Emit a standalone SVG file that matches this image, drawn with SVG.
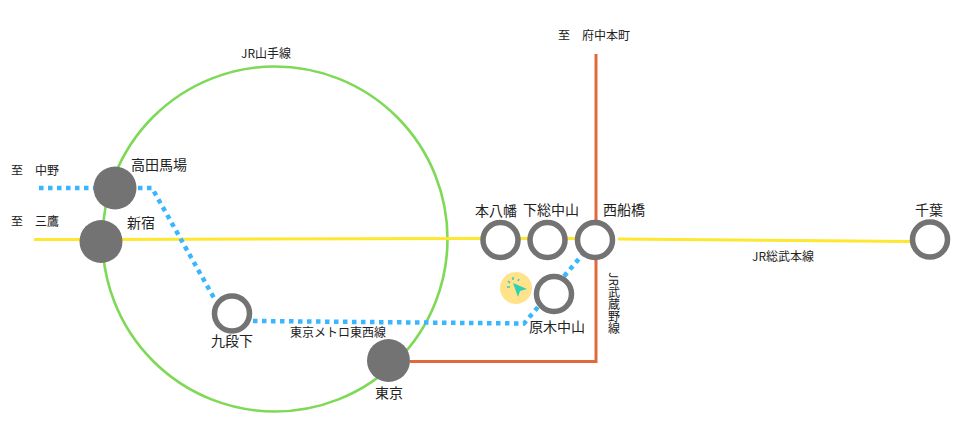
<svg xmlns="http://www.w3.org/2000/svg" width="965" height="430" viewBox="0 0 965 430">
<style>
text{font-family:"Noto Sans CJK JP","Noto Sans",sans-serif;fill:#222;text-anchor:middle}
.s{font-size:14px}.m{font-size:12px}
.yama{fill:none;stroke:#7ed957;stroke-width:2.600}
.sobu{fill:none;stroke:#fde72f;stroke-width:3}
.musa{fill:none;stroke:#e2693c;stroke-width:3}
.tozai{fill:none;stroke:#38b6ff;stroke-width:4.500;stroke-dasharray:4.500 4.500}
.fill{fill:#737373}
.ring{fill:#fff;stroke:#737373;stroke-width:5.500}
</style>
<rect width="965" height="430" fill="#fff"/>
<g id="connectors">
<circle class="yama" cx="275" cy="239" r="172.500"/>
<path class="sobu" d="M34 239.500H100L482 238.500"/>
<path class="sobu" d="M618 239L912 241.500"/>
<path class="sobu" d="M520 238.500H576"/>
<path class="musa" d="M596 54V361.500H410"/>
<path class="tozai" d="M39 188H152L214 298"/>
<path class="tozai" d="M253 321L524 323.500L583 254"/>
</g>
<g id="cursor-mark">
<circle cx="516" cy="288" r="16" fill="#ffe28a"/>
<path d="M513 283L527 289L520 291L518 297Z" fill="#2fd0b5"/>
<path d="M507 287h3M508 281l2 2M513 277v3M519 279l-1 2" stroke="#2fd0b5" stroke-width="1.500" fill="none"/>
</g>
<g id="takadanobaba"><circle class="fill" cx="115" cy="188" r="21.500"/><text class="s" x="159" y="170">高田馬場</text></g>
<g id="shinjuku"><circle class="fill" cx="101" cy="241.500" r="21.500"/><text class="s" x="141" y="228">新宿</text></g>
<g id="tokyo"><circle class="fill" cx="388.500" cy="360.500" r="21.500"/><text class="s" x="389" y="398">東京</text></g>
<g id="kudanshita"><circle class="ring" cx="232" cy="313.500" r="17.500"/><text class="s" x="232" y="346">九段下</text></g>
<g id="motoyawata"><circle class="ring" cx="500.500" cy="240" r="17.500"/><text class="s" x="496" y="216">本八幡</text></g>
<g id="shimosa-nakayama"><circle class="ring" cx="547.500" cy="240" r="17.500"/><text class="s" x="551" y="215">下総中山</text></g>
<g id="nishi-funabashi"><circle class="ring" cx="595" cy="240" r="17.500"/><text class="s" x="624" y="215">西船橋</text></g>
<g id="baraki-nakayama"><circle class="ring" cx="554" cy="294" r="17.500"/><text class="s" x="557" y="332">原木中山</text></g>
<g id="chiba"><circle class="ring" cx="930" cy="239.500" r="17.500"/><text class="s" x="929" y="215">千葉</text></g>
<g id="labels">
<text class="m" x="266" y="58">JR山手線</text>
<text class="m" x="594" y="40" xml:space="preserve">至　府中本町</text>
<text class="m" x="35" y="175" xml:space="preserve">至　中野</text>
<text class="m" x="35" y="226" xml:space="preserve">至　三鷹</text>
<text class="m" x="338" y="337">東京メトロ東西線</text>
<text class="m" x="783" y="261">JR総武本線</text>
<text class="m" x="614" y="272" style="writing-mode:vertical-rl;text-anchor:start">JR武蔵野線</text>
</g>
</svg>
